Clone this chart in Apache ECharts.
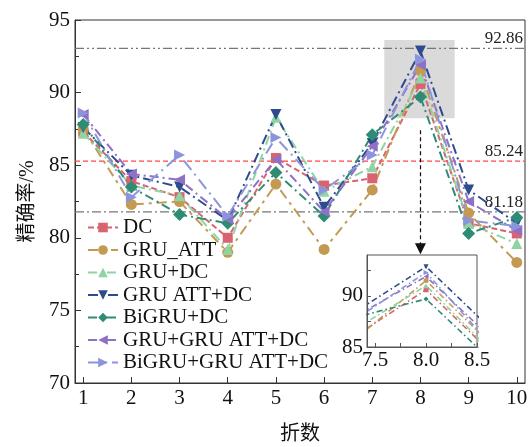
<!DOCTYPE html>
<html>
<head>
<meta charset="utf-8">
<script src="https://cdn.jsdelivr.net/npm/echarts@6/dist/echarts.min.js"></script>
<style>
  html, body { margin: 0; padding: 0; background: #fff; }
  #chart { width: 529px; height: 447px; }
</style>
</head>
<body>
<div id="chart"></div>
<script>
// 折数
const folds = [1, 2, 3, 4, 5, 6, 7, 8, 9, 10]
// 各模型的精确率 (%)
const dc = [87.3, 83.9, 82.8, 80.0, 85.5, 83.6, 84.1, 90.6, 81.0, 80.3]
const gruAtt = [87.5, 82.3, 82.5, 79.0, 83.7, 79.2, 83.3, 91.5, 81.7, 78.3]
const gruDc = [87.2, 83.6, 82.9, 79.2, 88.3, 83.2, 84.9, 91.0, 81.0, 79.6]
const gruAttDc = [87.6, 84.3, 83.5, 81.2, 88.5, 82.1, 86.5, 92.86, 83.3, 81.0]
const biGruDc = [87.8, 83.5, 81.6, 81.0, 84.5, 81.5, 87.1, 89.7, 80.3, 81.4]
const gruGruAttDc = [88.5, 84.4, 84.0, 81.3, 85.4, 81.8, 86.3, 91.9, 82.5, 80.5]
const biGruGruAttDc = [88.6, 82.8, 85.7, 81.5, 86.9, 83.3, 85.7, 92.3, 81.2, 80.8]

const names = ['DC', 'GRU_ATT', 'GRU+DC', 'GRU ATT+DC', 'BiGRU+DC', 'GRU+GRU ATT+DC', 'BiGRU+GRU ATT+DC']
const values = [dc, gruAtt, gruDc, gruAttDc, biGruDc, gruGruAttDc, biGruGruAttDc]

// 参考线 (画的位置和标注文字)
const refValues = [93.05, 85.28, 81.78]
const refLabels = ['92.86', '85.24', '81.18']

// 刻度标签
const yTicks = [70, 75, 80, 85, 90, 95]
const insetXTicks = [7.5, 8.0, 8.5]
const insetYTicks = [85, 90]

const colors = ['#d9646f', '#c49a52', '#8fd4a3', '#2e4b8e', '#2f8c74', '#8e70c4', '#8c95dc']
const symbols = ['rect', 'circle', 'triangle', 'triangle', 'diamond', 'triangle', 'triangle']
const rotates = [0, 0, 0, 180, 0, 90, -90]
const sizes = [10, 11, 11, 11, 13, 11, 11]
const dashes = [[6, 3], [10, 5, 3, 5], [9, 4, 2, 4], [10, 4, 2, 4], [9, 4, 2, 4], [9, 4, 2, 4], [12, 5, 2, 5]]
const refColors = ['#777', '#ff4545', '#777']
const refDashes = [[9, 3, 2, 3, 2, 3], [5, 3], [9, 3, 2, 3]]

const xMin = 0.83
const xMax = 10.17

const serif = '"Liberation Serif", "DejaVu Serif", "Noto Sans CJK SC", serif'
const axisText = { color: '#111', fontSize: 21, fontFamily: serif }

const myChart = echarts.init(document.getElementById('chart'))

const mainSeries = values.map((v, k) => ({
    name: names[k],
    type: 'line',
    z: 3,
    data: folds.map((f, i) => [f, v[i]]),
    symbol: symbols[k],
    symbolRotate: rotates[k],
    symbolSize: sizes[k],
    color: colors[k],
    lineStyle: { width: 2, type: dashes[k] },
    itemStyle: { color: colors[k] }
}))

// 放大的小图
const insetSeries = values.map((v, k) => ({
    name: names[k],
    type: 'line',
    xAxisIndex: 1,
    yAxisIndex: 1,
    z: 10,
    data: folds.map((f, i) => [f, v[i]]),
    symbol: symbols[k],
    symbolRotate: rotates[k],
    symbolSize: 5,
    color: colors[k],
    lineStyle: { width: 1.6, type: [6, 3, 1.5, 3] },
    itemStyle: { color: colors[k] }
}))

// 水平参考线
const refSeries = refValues.map((y, k) => ({
    type: 'line',
    z: 2,
    silent: true,
    symbol: 'none',
    color: refColors[k],
    lineStyle: { color: refColors[k], width: 1.2, type: refDashes[k] },
    data: [[xMin, y], [xMax, y]],
    endLabel: {
        show: true,
        formatter: refLabels[k],
        distance: 0,
        align: 'right',
        verticalAlign: 'bottom',
        offset: [-2, -1],
        color: '#222',
        fontSize: 17,
        fontFamily: serif
    }
}))

// 灰色区域和箭头
const helper = {
    type: 'line',
    data: [],
    z: 1,
    silent: true,
    color: '#111',
    markArea: {
        silent: true,
        itemStyle: { color: '#dadada' },
        data: [[{ xAxis: 7.25, yAxis: 93.62 }, { xAxis: 8.71, yAxis: 88.23 }]]
    },
    markLine: {
        silent: true,
        symbol: ['none', 'triangle'],
        symbolSize: 11,
        label: { show: false },
        lineStyle: { color: '#111', width: 1.2, type: [4, 3] },
        itemStyle: { color: '#111' },
        data: [[{ coord: [8, 87.4] }, { coord: [8, 79.25] }]]
    }
}

myChart.setOption({
    animation: false,
    legend: {
        orient: 'vertical',
        left: 82,
        top: 212,
        itemWidth: 30,
        itemHeight: 12,
        itemGap: 1.5,
        textStyle: { color: '#111', fontSize: 21, fontFamily: serif },
        data: names
    },
    grid: [
        { left: 75, right: 4, top: 20, bottom: 64, outerBoundsMode: 'none', show: true, borderColor: '#333', borderWidth: 1 },
        { left: 367, top: 255, width: 110, height: 92, outerBoundsMode: 'none', show: true, borderColor: '#555', borderWidth: 1, backgroundColor: '#fff', z: 4 }
    ],
    xAxis: [
        {
            type: 'value',
            gridIndex: 0,
            min: xMin,
            max: xMax,
            name: '折数',
            nameLocation: 'middle',
            nameGap: 42,
            nameTextStyle: { color: '#111', fontSize: 20, fontFamily: serif },
            axisLine: { lineStyle: { color: '#333' } },
            axisTick: { inside: true, length: 6, customValues: folds, lineStyle: { color: '#333' } },
            axisLabel: Object.assign({ margin: 5, customValues: folds }, axisText),
            splitLine: { show: false }
        },
        {
            type: 'value',
            gridIndex: 1,
            min: 7.42,
            max: 8.5,
            z: 11,
            axisLine: { lineStyle: { color: '#555' } },
            axisTick: { inside: true, length: 4, customValues: [7.5, 7.75, 8.0, 8.25, 8.5], lineStyle: { color: '#555' } },
            axisLabel: Object.assign({ margin: 3, customValues: insetXTicks, formatter: v => v.toFixed(1) }, axisText),
            splitLine: { show: false }
        }
    ],
    yAxis: [
        {
            type: 'value',
            gridIndex: 0,
            min: 70,
            max: 95,
            interval: 5,
            name: '精确率/%',
            nameLocation: 'middle',
            nameGap: 29,
            nameTextStyle: { color: '#111', fontSize: 20, fontFamily: serif },
            axisLine: { show: true, lineStyle: { color: '#333' } },
            axisTick: { inside: true, length: 6, lineStyle: { color: '#333' } },
            minorTick: { show: true, splitNumber: 2, length: 4, lineStyle: { color: '#333' } },
            axisLabel: Object.assign({ margin: 5, customValues: yTicks }, axisText),
            splitLine: { show: false }
        },
        {
            type: 'value',
            gridIndex: 1,
            min: 85,
            max: 94,
            z: 11,
            axisLine: { show: true, lineStyle: { color: '#555' } },
            axisTick: { inside: true, length: 4, customValues: [85, 87.5, 90, 92.5], lineStyle: { color: '#555' } },
            axisLabel: Object.assign({ margin: 4, customValues: insetYTicks }, axisText),
            splitLine: { show: false }
        }
    ],
    series: [helper].concat(refSeries, mainSeries, insetSeries)
})

window.addEventListener('resize', () => {
    myChart.resize()
})
</script>
</body>
</html>
